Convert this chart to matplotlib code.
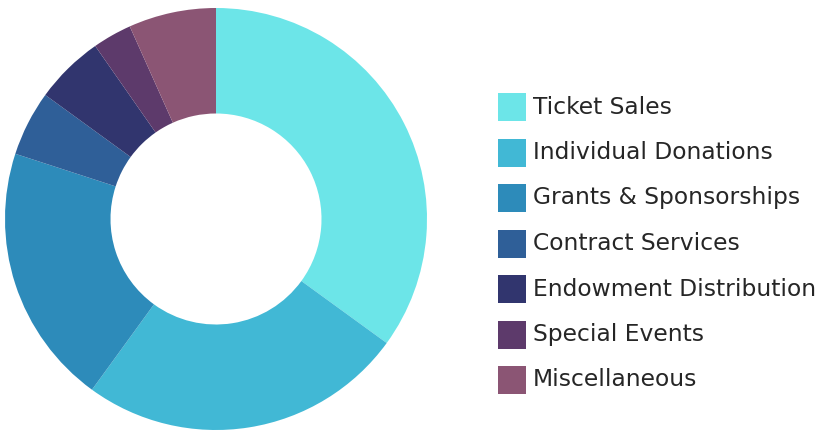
import matplotlib
matplotlib.use("Agg")
import matplotlib.pyplot as plt
from matplotlib.patches import Rectangle

categories = ["Ticket Sales", "Individual Donations", "Grants & Sponsorships",
              "Contract Services", "Endowment Distribution", "Special Events",
              "Miscellaneous"]
values = [35, 25, 20, 5, 5.3, 3, 6.7]
colors = ["#6CE5E8", "#41B8D5", "#2D8BBA", "#2F5F98", "#31356E", "#5D3A6B", "#8B5574"]

W, H = 824, 430
fig = plt.figure(figsize=(W / 100, H / 100), dpi=100)
fig.patch.set_facecolor("white")

cx, cy, r = 216, 219, 211
ax = fig.add_axes([(cx - r) / W, (H - cy - r) / H, 2 * r / W, 2 * r / H])
ax.pie(values, colors=colors, startangle=90, counterclock=False, radius=1.0,
       wedgeprops=dict(width=0.5, linewidth=0))
ax.set_xlim(-1, 1)
ax.set_ylim(-1, 1)
ax.set_aspect("equal")
ax.axis("off")

fam = ["DejaVu Sans"]
y0, dy = 107, 45.5
for i, (lab, col) in enumerate(zip(categories, colors)):
    yc = y0 + i * dy
    fig.patches.append(Rectangle(((498) / W, (H - yc - 14) / H), 28 / W, 28 / H,
                                 transform=fig.transFigure, facecolor=col,
                                 edgecolor="none", figure=fig))
    fig.text(533 / W, (H - yc) / H, lab, fontsize=16.8, color="#262626",
             va="center", ha="left", family=fam)

fig.savefig("out.png", dpi=100, facecolor="white")
